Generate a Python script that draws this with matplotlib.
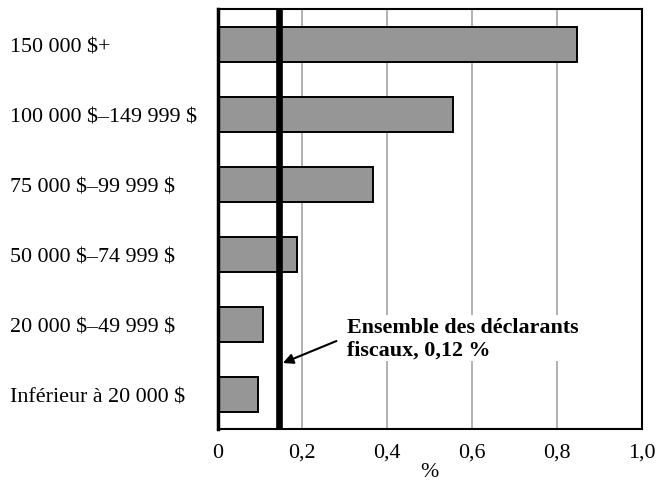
import matplotlib
matplotlib.use("Agg")
import matplotlib.pyplot as plt

categories = ["Inférieur à 20 000 \\$", "20 000 \\$–49 999 \\$", "50 000 \\$–74 999 \\$",
              "75 000 \\$–99 999 \\$", "100 000 \\$–149 999 \\$", "150 000 \\$+"]
values = [0.096, 0.106, 0.187, 0.367, 0.554, 0.846]
overall_pos = 0.145
overall_label = "Ensemble des déclarants\nfiscaux, 0,12 %"
xticks = [0, 0.2, 0.4, 0.6, 0.8, 1.0]
xtick_labels = ["0", "0,2", "0,4", "0,6", "0,8", "1,0"]

plt.rcParams['font.family'] = ['Liberation Serif', 'DejaVu Serif']
FS = 15.8

fig = plt.figure(figsize=(6.56, 4.81), dpi=100)
ax = fig.add_axes([0.3316, 0.106, 0.9787 - 0.3316, 0.9792 - 0.106])

ypos = list(range(len(categories)))
ax.barh(ypos, values, height=0.5, color="#969696", edgecolor="black",
        linewidth=1.4, zorder=3)
ax.axvline(overall_pos, color="black", linewidth=4.8, zorder=4)

ax.set_xlim(0, 1.0)
ax.set_ylim(-0.5, len(categories) - 0.5)
ax.set_xticks(xticks)
ax.set_xticklabels(xtick_labels, fontsize=FS)
ax.set_yticks(ypos)
ax.set_yticklabels(categories, fontsize=FS, ha="left")
ax.tick_params(axis="y", length=0, pad=149.4)
ax.tick_params(axis="x", length=0, pad=10)
ax.set_xlabel("%", fontsize=FS, labelpad=0)

for x in xticks[1:-1]:
    ax.axvline(x, color="#ababab", linewidth=1.3, zorder=1)

for side in ["top", "right", "bottom"]:
    ax.spines[side].set_linewidth(1.5)
ax.spines["left"].set_linewidth(2.5)
for s in ax.spines.values():
    s.set_zorder(6)

ax.text(0.305, 0.80, overall_label, fontsize=FS, fontweight="bold",
        ha="left", va="center", zorder=5,
        bbox=dict(facecolor="white", edgecolor="none", pad=1))
ax.annotate("", xy=(overall_pos + 0.009, 0.443), xytext=(0.280, 0.757),
            arrowprops=dict(arrowstyle="-|>", color="black", lw=1.5,
                            shrinkA=0, shrinkB=0, mutation_scale=15),
            zorder=5)

fig.savefig("out.png", dpi=100)
